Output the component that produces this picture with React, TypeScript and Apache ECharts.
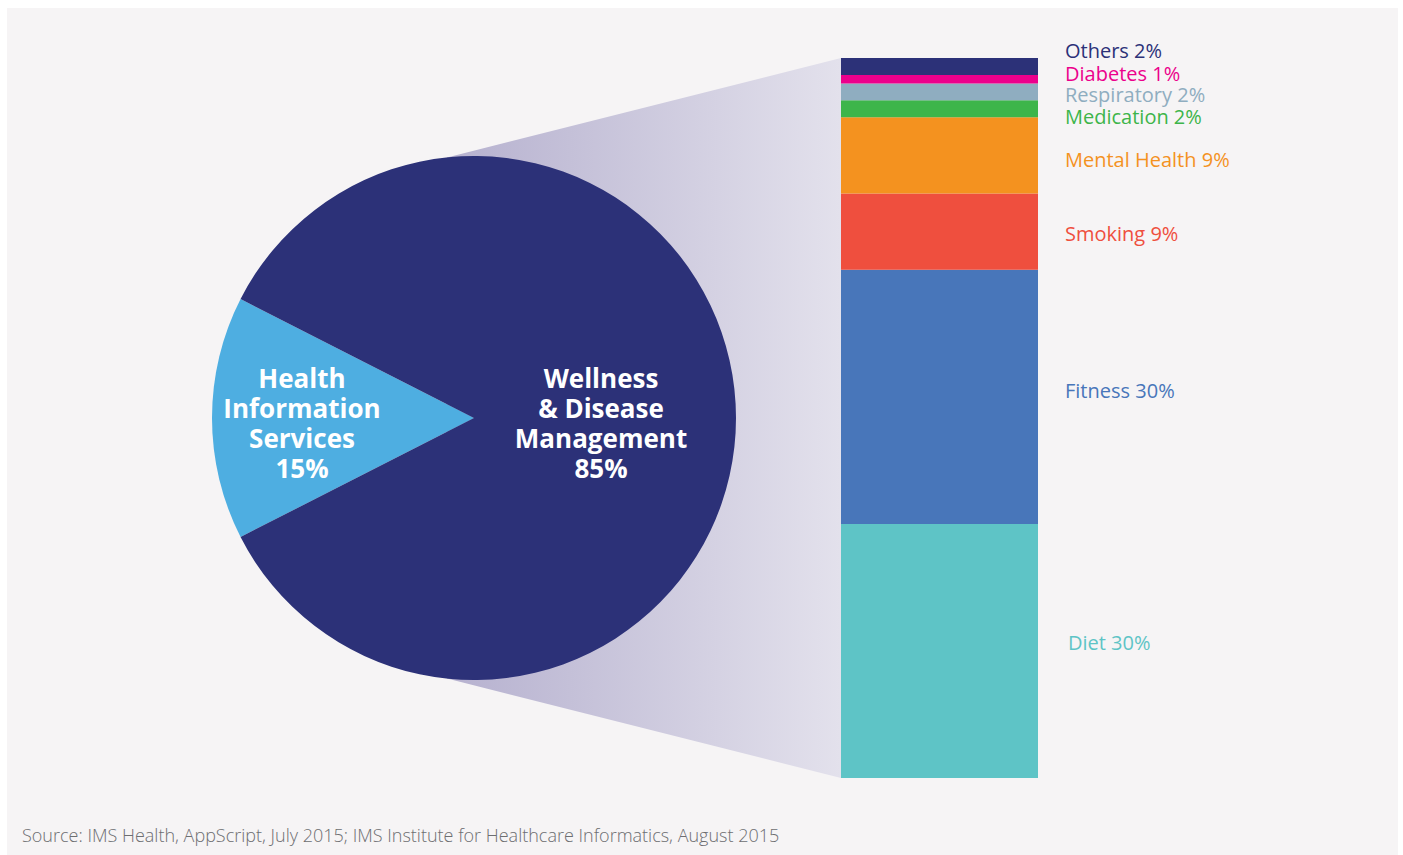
import React, { useEffect, useRef } from "react";
import * as echarts from "echarts";

// ---- data ----
const pieNames = ["Health\nInformation\nServices", "Wellness\n& Disease\nManagement"];
const pieValues = [15, 85];
const pieColors = ["#4eaee1", "#2c3178"];

// stacked from bottom to top
const barNames = ["Diet", "Fitness", "Smoking", "Mental Health", "Medication", "Respiratory", "Diabetes", "Others"];
const barValues = [30, 30, 9, 9, 2, 2, 1, 2];
const barColors = ["#5ec4c6", "#4876ba", "#ef4f3e", "#f4921f", "#3db54a", "#8fadc0", "#ec008c", "#2c3178"];
const barLabelShift = [-8, -6, 2, 4, 8, 3, -6, -16];

const sourceText = "Source: IMS Health, AppScript, July 2015; IMS Institute for Healthcare Informatics, August 2015";

const FONT = "Open Sans";

export default function App() {
  const ref = useRef<HTMLDivElement>(null);
  useEffect(() => {
    document.body.style.margin = "0";
    const chart = echarts.init(ref.current!, null, { renderer: "svg" });
    const cx = 474, cy = 418, r = 262;
    const gLeft = 841, gTop = 58, gW = 197, gH = 720;
    const total = barValues.reduce((a, b) => a + b, 0);
    const tanX = 447;
    const dyT = Math.sqrt(r * r - (cx - tanX) * (cx - tanX));
    chart.setOption({
      animation: false,
      backgroundColor: "#ffffff",
      graphic: [
        { type: "rect", z: 0, silent: true, shape: { x: 7, y: 8, width: 1391, height: 847 }, style: { fill: "#f6f4f5" } },
        {
          type: "polygon", z: 1, silent: true,
          shape: { points: [[gLeft, gTop], [gLeft, gTop + gH], [tanX, cy + dyT], [tanX, cy - dyT]] },
          style: {
            fill: new echarts.graphic.LinearGradient(0, 0, 1, 0, [
              { offset: 0, color: "#b6b1cf" },
              { offset: 1, color: "#e3e1ec" },
            ]),
          },
        },
        {
          type: "text", z: 1, left: 22, top: 826,
          style: { text: sourceText, fill: "#6d6e71", fontSize: 18, fontFamily: FONT, fontWeight: 300 },
        },
      ],
      grid: { left: gLeft, top: gTop, width: gW, height: gH },
      xAxis: { type: "category", data: ["Wellness"], show: false },
      yAxis: { type: "value", min: 0, max: total, show: false },
      series: [
        {
          type: "pie",
          center: [cx, cy],
          radius: [0, r],
          startAngle: 207,
          clockwise: true,
          z: 3,
          label: {
            show: true, position: "inside", color: "#ffffff", fontSize: 26, fontWeight: "bold",
            fontFamily: FONT, lineHeight: 30, formatter: "{b}\n{c}%",
          },
          labelLayout: (p: any) => (p.dataIndex === 0 ? { dx: -38, dy: 5 } : { dx: -7, dy: 5 }),
          itemStyle: { borderWidth: 0 },
          emphasis: { disabled: true },
          data: pieNames.map((n, i) => ({ name: n, value: pieValues[i], itemStyle: { color: pieColors[i] } })),
        },
        ...barNames.map((n, i) => ({
          type: "bar",
          name: n,
          stack: "w",
          barWidth: "100%",
          z: 3,
          itemStyle: { color: barColors[i] },
          label: {
            show: true, position: "right", distance: 27, color: barColors[i], fontSize: 20,
            fontFamily: FONT, formatter: "{a} {c}%",
          },
          labelLayout: { dx: i === 0 ? 3 : 0, dy: barLabelShift[i] },
          emphasis: { disabled: true },
          data: [barValues[i]],
        })),
      ],
    });
    return () => chart.dispose();
  }, []);
  return <div ref={ref} style={{ width: 1403, height: 855 }} />;
}
